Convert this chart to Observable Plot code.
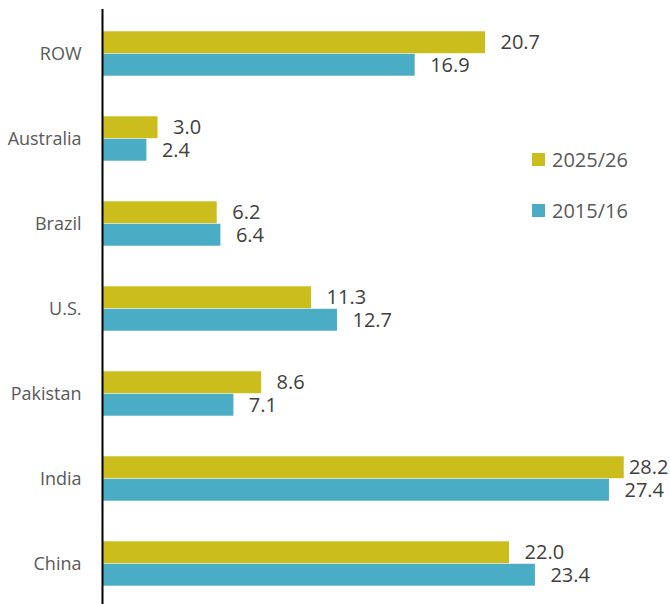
<!DOCTYPE html>
<html>
<head>
<meta charset="utf-8">
<script src="https://cdn.jsdelivr.net/npm/d3@7"></script>
<script src="https://cdn.jsdelivr.net/npm/@observablehq/plot@0.6"></script>
<style>
  html, body { margin: 0; padding: 0; background: white; }
  #wrap { position: relative; width: 670px; height: 604px; overflow: hidden; }
  #legend { position: absolute; left: 532px; top: 143px; font-family: "Open Sans", sans-serif; font-size: 20px; color: #595959; }
  .item { display: flex; align-items: center; height: 32px; margin-bottom: 19px; }
  .sw { width: 13px; height: 13px; margin-right: 7px; }
</style>
</head>
<body>
<div id="wrap"></div>
<script>
const categories = ["ROW", "Australia", "Brazil", "U.S.", "Pakistan", "India", "China"];
const series = ["2025/26", "2015/16"];
const values2025 = [20.7, 3.0, 6.2, 11.3, 8.6, 28.2, 22.0];
const values2015 = [16.9, 2.4, 6.4, 12.7, 7.1, 27.4, 23.4];
const colors = ["#CBBE1C", "#4BACC6"];

const W = 670, H = 604, mt = 9, mb = -4, ml = 102, mr = 0;
const xMax = 30.7;
const step = (H - mt - mb) / categories.length;
const half = step / 2;
const thick = 22.5;

const rows = [];
categories.forEach((c, i) => {
  rows.push({category: c, series: series[0], value: values2025[i]});
  rows.push({category: c, series: series[1], value: values2015[i]});
});
const fits = d => d.value <= xMax - 3;
const label = d => d.value.toFixed(1);

const marks = [];
series.forEach((s, k) => {
  const data = rows.filter(d => d.series === s);
  marks.push(Plot.barX(data, {
    x: "value", y: "category", fill: colors[k],
    insetTop: k === 0 ? half - thick : half,
    insetBottom: k === 0 ? half : half - thick
  }));
  const dy = k === 0 ? -thick / 2 : thick / 2;
  marks.push(Plot.text(data.filter(fits), {
    x: "value", y: "category", text: label, textAnchor: "start",
    dx: 15, dy, fill: "#404040", fontSize: 20
  }));
  marks.push(Plot.text(data.filter(d => !fits(d)), {
    frameAnchor: "right", y: "category", text: label, textAnchor: "end",
    dx: -2, dy, fill: "#404040", fontSize: 20
  }));
});
marks.push(Plot.ruleX([0], {stroke: "black", strokeWidth: 2}));

const chart = Plot.plot({
  width: W, height: H,
  marginLeft: ml, marginRight: mr, marginTop: mt, marginBottom: mb,
  x: {domain: [0, xMax], axis: null},
  y: {domain: categories, padding: 0, tickSize: 0, tickPadding: 21, label: null},
  style: {fontFamily: "Open Sans, sans-serif", fontSize: "18px", color: "#595959", background: "white"},
  marks
});
const wrap = document.getElementById("wrap");
wrap.appendChild(chart);

const legend = document.createElement("div");
legend.id = "legend";
series.forEach((s, k) => {
  const item = document.createElement("div");
  item.className = "item";
  const sw = document.createElement("span");
  sw.className = "sw";
  sw.style.background = colors[k];
  const t = document.createElement("span");
  t.textContent = s;
  item.appendChild(sw);
  item.appendChild(t);
  legend.appendChild(item);
});
wrap.appendChild(legend);
</script>
</body>
</html>
